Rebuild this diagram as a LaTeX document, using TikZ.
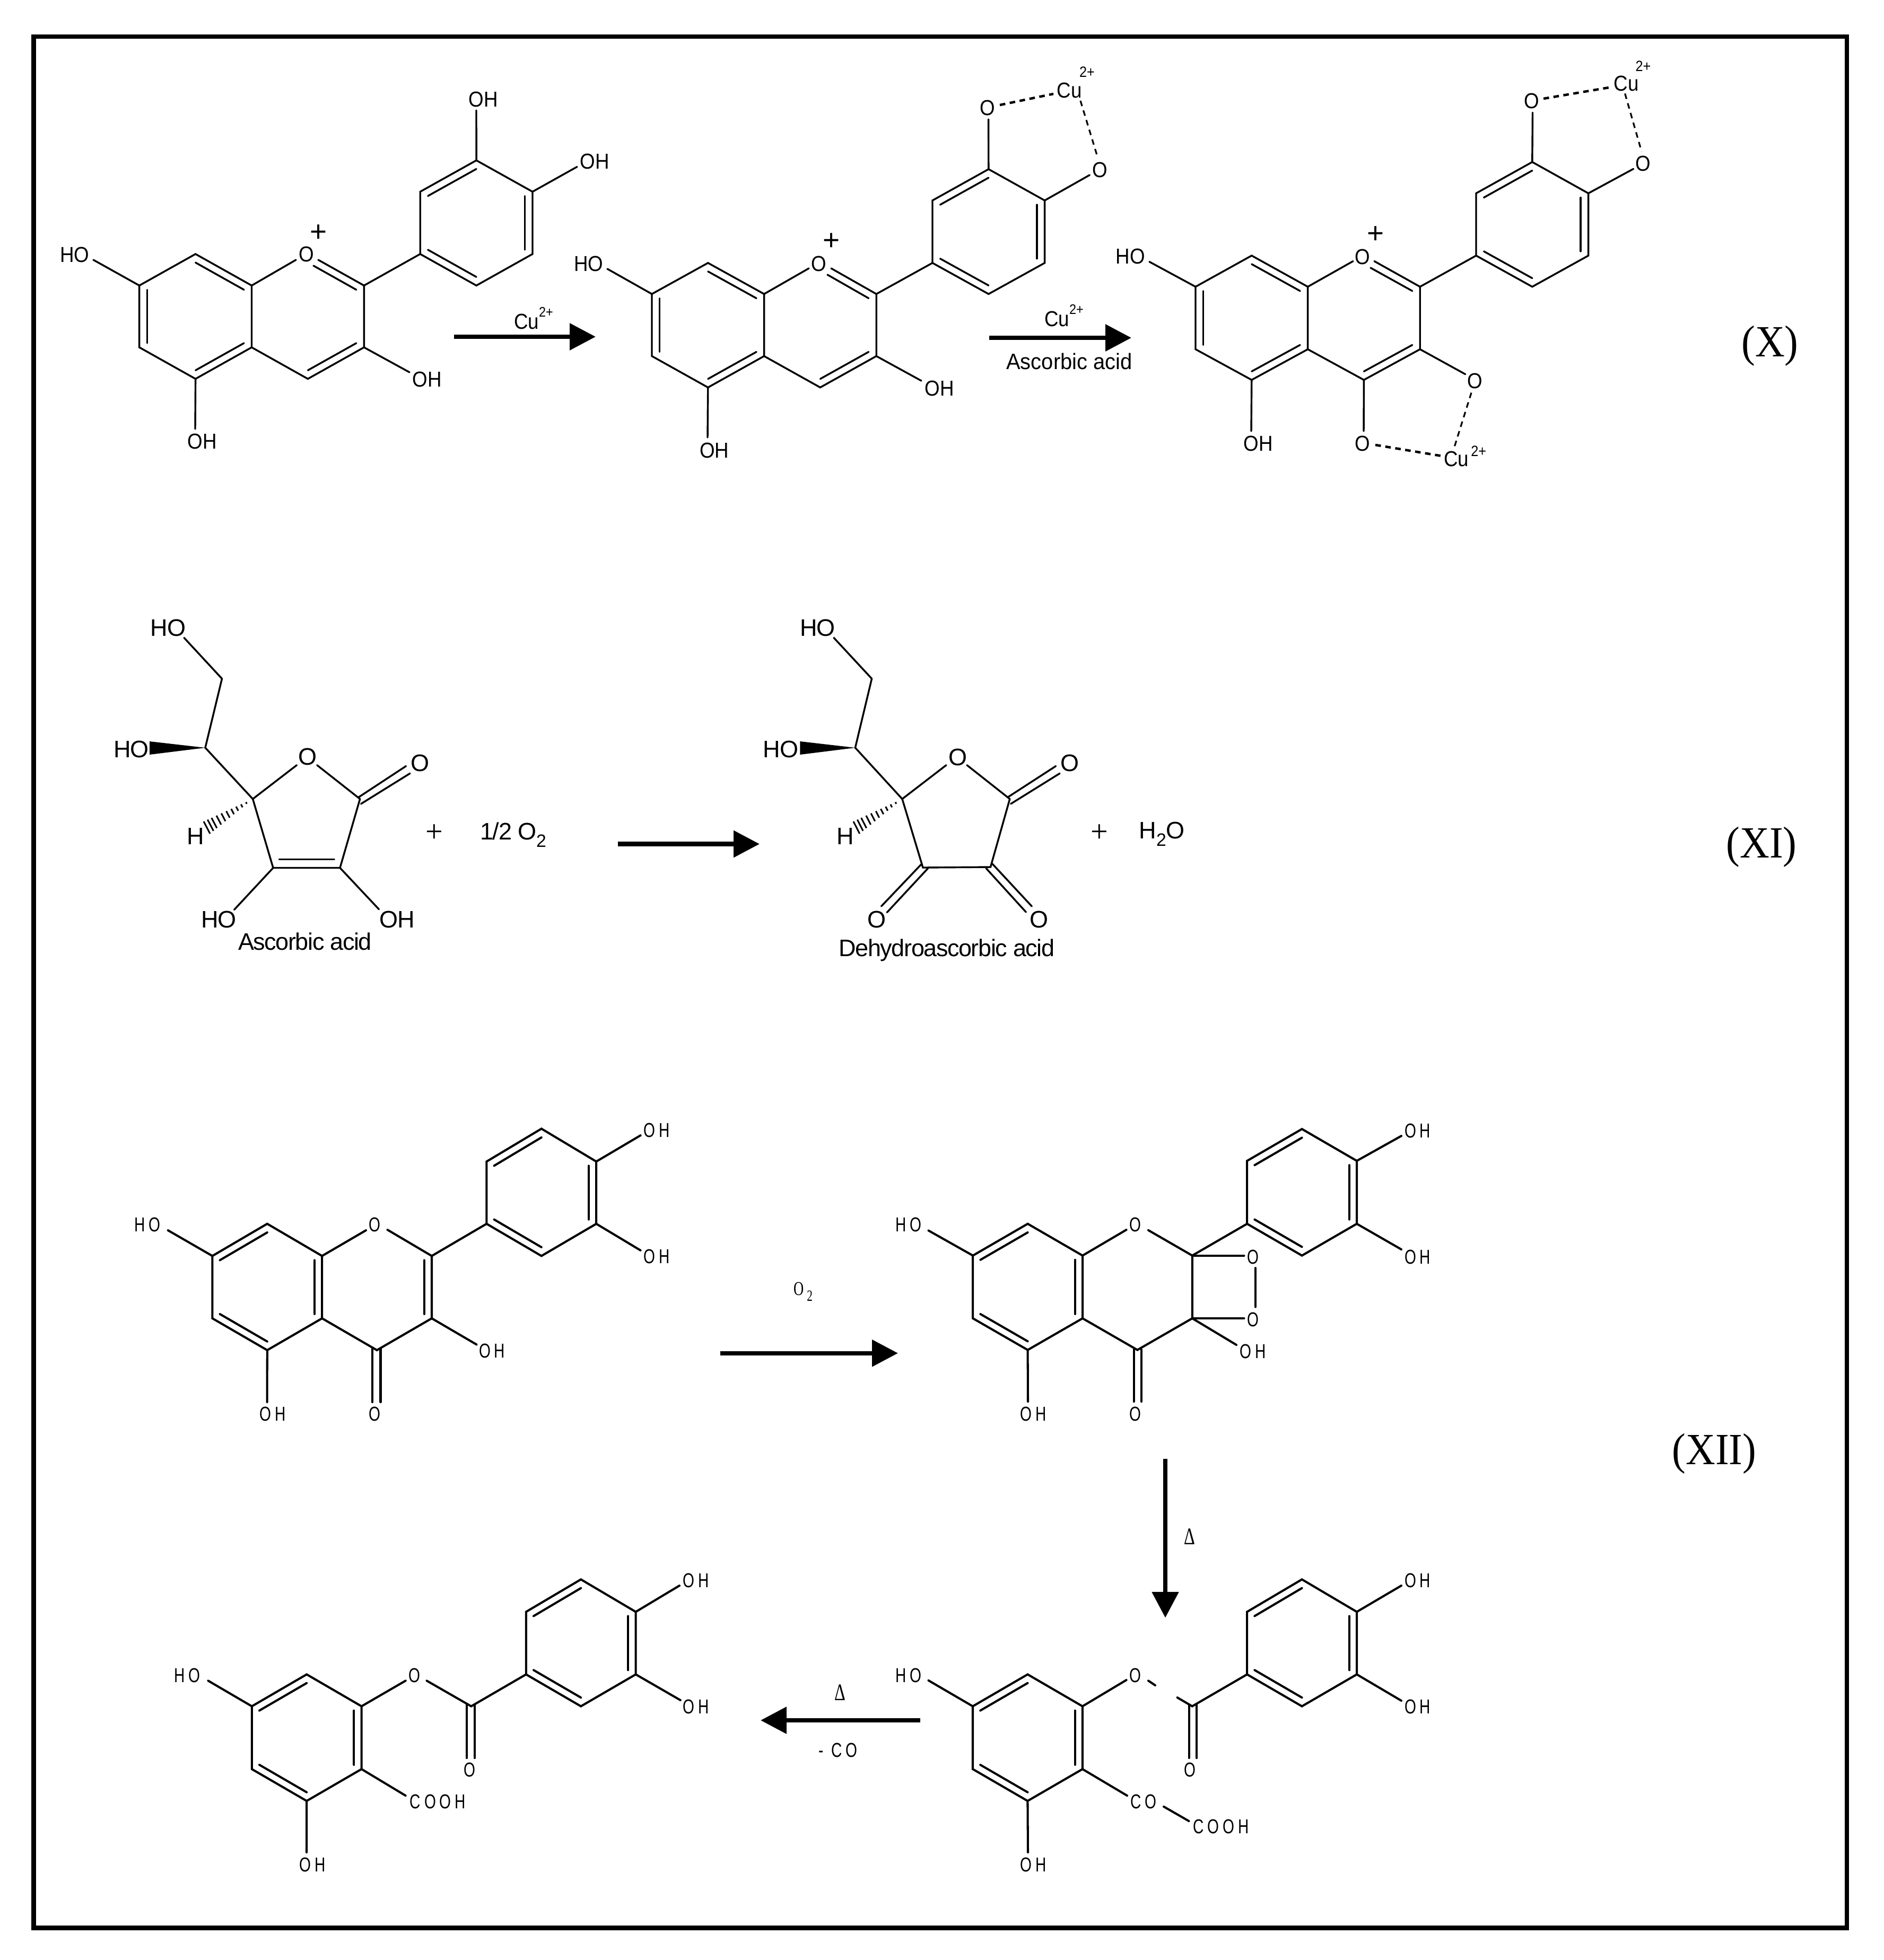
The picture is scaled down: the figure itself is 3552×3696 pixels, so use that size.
\documentclass[tikz,border=0pt]{standalone}
\usepackage{fontspec}
\usetikzlibrary{calc,arrows.meta}
\setmainfont{Liberation Sans}
\newfontfamily\chemA[FakeStretch=0.9]{Liberation Sans}
\newfontfamily\chemAw[FakeStretch=0.95]{Liberation Sans}
\newfontfamily\chemB[LetterSpace=-3.2]{Liberation Sans}
\newfontfamily\chemC[FakeStretch=0.74,LetterSpace=18]{Liberation Sans}
\newfontfamily\chemS[FakeStretch=0.92]{Liberation Serif}
\newfontfamily\chemN[FakeStretch=0.72]{Liberation Serif}
\newfontfamily\chemP{Liberation Serif}
\def\bondw{0.97pt}
\def\innerf{0.137}
\newcommand\gridmol[9]{%
  \def\xa{#2}\def\dx{#3}%
  \coordinate (#1A1) at ({\xa},#7);
  \coordinate (#1A2) at ({\xa+\dx},#6);
  \coordinate (#1A3) at ({\xa+2*\dx},#7);
  \coordinate (#1A4) at ({\xa+2*\dx},#8);
  \coordinate (#1A5) at ({\xa+\dx},#9);
  \coordinate (#1A6) at ({\xa},#8);
  \coordinate (#1O) at ({\xa+3*\dx},#6);
  \coordinate (#1C2) at ({\xa+4*\dx},#7);
  \coordinate (#1C3) at ({\xa+4*\dx},#8);
  \coordinate (#1C4) at ({\xa+3*\dx},#9);
  \coordinate (#1B1) at ({\xa+5*\dx},#6);
  \coordinate (#1B2) at ({\xa+5*\dx},#5);
  \coordinate (#1B3) at ({\xa+6*\dx},#4);
  \coordinate (#1B4) at ({\xa+7*\dx},#5);
  \coordinate (#1B5) at ({\xa+7*\dx},#6);
  \coordinate (#1B6) at ({\xa+6*\dx},#7);
  \coordinate (#1cA) at ($(#1A2)!0.5!(#1A5)$);
  \coordinate (#1cC) at ($(#1O)!0.5!(#1C4)$);
  \coordinate (#1cB) at ($(#1B3)!0.5!(#1B6)$);
  \draw[bond] (#1A1) -- (#1A2) -- (#1A3) -- (#1A4) -- (#1A5) -- (#1A6) -- cycle;
  \draw[bond] (#1B1) -- (#1B2) -- (#1B3) -- (#1B4) -- (#1B5) -- (#1B6) -- cycle;
  \innerbond{#1B1}{#1B6}{#1cB}\innerbond{#1B2}{#1B3}{#1cB}\innerbond{#1B4}{#1B5}{#1cB}%
}
\newcommand\innerbond[3]{\draw[bond] ($(#1)!\innerf!(#3)$) -- ($(#2)!\innerf!(#3)$);}
\newcommand\bondstub[3]{\coordinate (#2) at (#3); \draw[bond] (#1) -- (#2);}
\newcommand\hashw[3]{\foreach \t in {0.14,0.24,0.34,0.44,0.54,0.64,0.74,0.84,0.92,1.0}{\draw[hashline] ($(#1)!\t!(#2)$) -- ($(#1)!\t!(#3)$);}}
\newcommand\suptxt[1]{\raisebox{.55em}{\fontsize{7.4}{8}\selectfont #1}}
\newcommand\subtxt[1]{\raisebox{-.3em}{\fontsize{9.6}{10}\selectfont #1}}
\tikzset{
  bond/.style={line width=\bondw,line cap=round,line join=miter},
  dashA/.style={line width=1.3pt,dash pattern=on 3pt off 2.4pt},
  dashB/.style={line width=0.9pt,dash pattern=on 3pt off 2.4pt},
  hashline/.style={line width=0.85pt},
  atomA/.style={inner sep=0pt,font={\chemA\fontsize{11.6}{13}\selectfont}},
  atomB/.style={inner sep=0pt,font={\chemB\fontsize{12.8}{14}\selectfont}},
  atomC/.style={inner sep=0pt,font={\chemC\fontsize{10.8}{13}\selectfont}},
  chargeA/.style={inner sep=0pt,font={\fontsize{15.6}{17}\selectfont}},
  chargeB/.style={inner sep=0pt,font={\chemA\fontsize{8}{9}\selectfont}},
  reagentA/.style={inner sep=0pt,font={\chemAw\fontsize{11.95}{13}\selectfont}},
  plusB/.style={inner sep=0pt,font={\chemP\fontsize{16.5}{18}\selectfont}},
  schemeno/.style={inner sep=0pt,anchor=base,font={\chemS\fontsize{23.9}{26}\selectfont}},
  deltalab/.style={inner sep=0pt,font={\chemN\fontsize{12.8}{14}\selectfont}},
  shaft/.style={line width=8.2*0.2845pt,-{Triangle[length=13.9pt,width=14pt]}},
  frame/.style={line width=8.3*0.2845pt,line join=miter}
}
\begin{document}
\begin{tikzpicture}[x=0.01cm,y=-0.01cm]
\useasboundingbox (0,0) rectangle (3552,3696);
\fill[white] (0,0) rectangle (3552,3696);
\coordinate (fr1) at (63.5,69);
\coordinate (fr2) at (3482,3635.5);
\draw[frame] (fr1) rectangle (fr2);

% ---------- Scheme X, molecule 1
\gridmol{a}{262.7}{105.9}{302.4}{361.5}{479}{538.4}{655}{714.4}
\node[atomA] (aO1) at (578,479) {O};
\node[chargeA] (aplus) at (601,440) {+};
\node[atomA] (aHO1) at (141,480) {HO};
\node[atomA] (aOH1) at (911,187) {OH};
\node[atomA] (aOH2) at (1121,304) {OH};
\node[atomA] (aOH3) at (805,715) {OH};
\node[atomA] (aOH4) at (381,832) {OH};
\bondstub{aA1}{ae1}{176,490}
\bondstub{aB3}{ae2}{898,208}
\bondstub{aB4}{ae3}{1088,314.5}
\bondstub{aC3}{ae4}{772,702}
\bondstub{aA5}{ae5}{368,809}
\bondstub{aA3}{ae6}{558,490}
\bondstub{aC2}{ae7}{600,490}
\draw[bond] (aC2) -- (aC3) -- (aC4) -- (aA4);
\draw[bond] (aC2) -- (aB1);
\innerbond{aA6}{aA1}{acA}\innerbond{aA2}{aA3}{acA}\innerbond{aA4}{aA5}{acA}
\innerbond{aC3}{aC4}{acC}
\coordinate (aOi) at (591,501);
\draw[bond] (aOi) -- ($(aC2)!\innerf!(acC)$);

% arrow 1
\coordinate (ar1s) at (855.5,635); \coordinate (ar1e) at (1123,635);
\draw[shaft] (ar1s) -- (ar1e);
\node[atomA] (ar1l) at (1006,600) {Cu\suptxt{2+}};

% ---------- Scheme X, molecule 2
\gridmol{b}{1229}{105.8}{319}{378}{495.8}{554.4}{671.5}{730.6}
\node[atomA] (bO1) at (1544,497) {O};
\node[chargeA] (bplus) at (1567.6,455.5) {+};
\node[atomA] (bHO1) at (1110,497) {HO};
\node[atomA] (bOH3) at (1771,732) {OH};
\node[atomA] (bOH4) at (1346.6,849) {OH};
\node[atomA] (bO2) at (1862,203) {O};
\node[atomA] (bO3) at (2074,320.6) {O};
\node[atomA] (bCu) at (2016,170) {Cu};
\node[chargeB] (bCuc) at (2049.5,136) {2+};
\bondstub{bA1}{be1}{1145,507}
\bondstub{bB3}{be2}{1863.6,225}
\bondstub{bB4}{be3}{2054.4,330}
\bondstub{bC3}{be4}{1737,718}
\bondstub{bA5}{be5}{1334,825}
\bondstub{bA3}{be6}{1525,506}
\bondstub{bC2}{be7}{1567,506}
\draw[bond] (bC2) -- (bC3) -- (bC4) -- (bA4);
\draw[bond] (bC2) -- (bB1);
\innerbond{bA6}{bA1}{bcA}\innerbond{bA2}{bA3}{bcA}\innerbond{bA4}{bA5}{bcA}
\innerbond{bC3}{bC4}{bcC}
\coordinate (bOi) at (1560,518);
\draw[bond] (bOi) -- ($(bC2)!\innerf!(bcC)$);
\coordinate (bd1) at (1885,198); \coordinate (bd2) at (1986,177);
\draw[dashA] (bd1) -- (bd2);
\coordinate (bd3) at (2037,190); \coordinate (bd4) at (2070,298.6);
\draw[dashB] (bd3) -- (bd4);

% arrow 2
\coordinate (ar2s) at (1865,637); \coordinate (ar2e) at (2133,637);
\draw[shaft] (ar2s) -- (ar2e);
\node[atomA] (ar2l) at (2006,595) {Cu\suptxt{2+}};
\node[reagentA] (ar2m) at (2016,681.5) {Ascorbic acid};

% ---------- Scheme X, molecule 3
\gridmol{c}{2254}{105.8}{305.5}{364.5}{482}{540.7}{658.6}{716.4}
\node[atomA] (cO1) at (2569,484.5) {O};
\node[chargeA] (cplus) at (2593,442.7) {+};
\node[atomA] (cHO1) at (2131.4,483.4) {HO};
\node[atomA] (cOH4) at (2372.5,836.4) {OH};
\node[atomA] (cO4) at (2780.5,718.6) {O};
\node[atomA] (cO5) at (2569,836) {O};
\node[atomA] (cCu2) at (2745.7,865) {Cu};
\node[chargeB] (cCu2c) at (2787.7,851) {2+};
\node[atomA] (cO2) at (2887.7,190) {O};
\node[atomA] (cO3) at (3098,308.7) {O};
\node[atomA] (cCu1) at (3066,157.7) {Cu};
\node[chargeB] (cCu1c) at (3098,124.5) {2+};
\bondstub{cA1}{ce1}{2167,493.6}
\bondstub{cB3}{ce2}{2889.5,212.3}
\bondstub{cB4}{ce3}{3079.6,318.4}
\bondstub{cC3}{ce4}{2762.7,705.7}
\bondstub{cA5}{ce5}{2359,813}
\bondstub{cC4}{ce8}{2571,813}
\bondstub{cA3}{ce6}{2551,492.5}
\bondstub{cC2}{ce7}{2591,492.5}
\draw[bond] (cC2) -- (cC3) -- (cC4) -- (cA4);
\draw[bond] (cC2) -- (cB1);
\innerbond{cA6}{cA1}{ccA}\innerbond{cA2}{cA3}{ccA}\innerbond{cA4}{cA5}{ccA}
\innerbond{cC3}{cC4}{ccC}
\coordinate (cOi) at (2584,505);
\draw[bond] (cOi) -- ($(cC2)!\innerf!(ccC)$);
\coordinate (cd1) at (2910,186); \coordinate (cd2) at (3036,164.6);
\draw[dashA] (cd1) -- (cd2);
\coordinate (cd3) at (3063.6,176.4); \coordinate (cd4) at (3095,286);
\draw[dashB] (cd3) -- (cd4);
\coordinate (cd5) at (2593,839); \coordinate (cd6) at (2716,859.5);
\draw[dashA] (cd5) -- (cd6);
\coordinate (cd7) at (2774,740.5); \coordinate (cd8) at (2741,846);
\draw[dashB] (cd7) -- (cd8);
\node[schemeno] (schX) at (3337,672) {(X)};

% ---------- Scheme XI, ascorbic acid
\coordinate (dCH2) at (418.5,1279.8);
\coordinate (dCH) at (387,1410);
\coordinate (dC4) at (476.6,1506.6);
\coordinate (dC1) at (678.7,1506.6);
\coordinate (dC2) at (641,1636.5);
\coordinate (dC3) at (515,1636.5);
\node[atomB] (dHO1) at (317,1184) {HO};
\node[atomB] (dHO2) at (247.6,1412.5) {HO};
\node[atomB] (dOr) at (580.5,1426.7) {O};
\node[atomB] (dOc) at (792,1439) {O};
\node[atomB] (dHO3) at (412.8,1734.3) {HO};
\node[atomB] (dOH) at (749,1734.3) {OH};
\node[atomB] (dH) at (368.8,1577) {H};
\node[atomB] (dname) at (575,1775) {Ascorbic acid};
\bondstub{dCH2}{de1}{347,1202.6}
\draw[bond] (dCH2) -- (dCH) -- (dC4);
\coordinate (dw1) at (282,1398); \coordinate (dw2) at (282,1423);
\fill (dCH) -- (dw1) -- (dw2) -- cycle;
\bondstub{dC4}{de2}{559.5,1442.8}
\bondstub{dC1}{de3}{597.7,1442.8}
\draw[bond] (dC4) -- (dC3) -- (dC2) -- (dC1);
\coordinate (dk1) at (676,1503.4); \coordinate (dk2) at (765.5,1444.6);
\coordinate (dk3) at (680.6,1515.8); \coordinate (dk4) at (773,1458.4);
\draw[bond] (dk1) -- (dk2); \draw[bond] (dk3) -- (dk4);
\coordinate (di1) at (526.3,1620.5); \coordinate (di2) at (630.3,1620.5);
\draw[bond] (di1) -- (di2);
\bondstub{dC3}{de4}{441.5,1715.5}
\bondstub{dC2}{de5}{714.4,1714.6}
\coordinate (dh1) at (384,1549); \coordinate (dh2) at (396,1572);
\hashw{dC4}{dh1}{dh2}
\node[plusB] (dplus) at (819,1571) {+};
\node[atomB] (dO2) at (967.6,1574) {1/2 O\subtxt{2}};

% arrow 3
\coordinate (ar3s) at (1165,1591.5); \coordinate (ar3e) at (1432,1591.5);
\draw[shaft] (ar3s) -- (ar3e);

% ---------- Scheme XI, dehydroascorbic acid
\coordinate (eCH2) at (1643.6,1279.8);
\coordinate (eCH) at (1612.4,1410);
\coordinate (eC4) at (1701,1506.6);
\coordinate (eC1) at (1903.8,1506.6);
\coordinate (eC2) at (1867.5,1635);
\coordinate (eC3) at (1740,1636);
\node[atomB] (eHO1) at (1541.6,1184) {HO};
\node[atomB] (eHO2) at (1472,1412.5) {HO};
\node[atomB] (eOr) at (1805.6,1427.6) {O};
\node[atomB] (eOc) at (2017.3,1439) {O};
\node[atomB] (eO3) at (1653,1734.3) {O};
\node[atomB] (eO2) at (1958.7,1734.3) {O};
\node[atomB] (eH) at (1593.9,1577) {H};
\node[atomB] (ename) at (1785,1792) {Dehydroascorbic acid};
\bondstub{eCH2}{ee1}{1572,1202.6}
\draw[bond] (eCH2) -- (eCH) -- (eC4);
\coordinate (ew1) at (1508.4,1398); \coordinate (ew2) at (1508.4,1423);
\fill (eCH) -- (ew1) -- (ew2) -- cycle;
\bondstub{eC4}{ee2}{1784,1442.8}
\bondstub{eC1}{ee3}{1823,1442.8}
\draw[bond] (eC4) -- (eC3) -- (eC2) -- (eC1);
\coordinate (ek1) at (1901.3,1502.5); \coordinate (ek2) at (1990.6,1444.6);
\coordinate (ek3) at (1905.7,1515.8); \coordinate (ek4) at (1998,1458.4);
\draw[bond] (ek1) -- (ek2); \draw[bond] (ek3) -- (ek4);
\coordinate (ek5) at (1738,1628.7); \coordinate (ek6) at (1661.5,1709);
\coordinate (ek7) at (1749.5,1637.4); \coordinate (ek8) at (1672.3,1720.5);
\draw[bond] (ek5) -- (ek6); \draw[bond] (ek7) -- (ek8);
\coordinate (ek9) at (1870.7,1628.7); \coordinate (ek10) at (1945.3,1709);
\coordinate (ek11) at (1859.2,1637.4); \coordinate (ek12) at (1934.4,1720);
\draw[bond] (ek9) -- (ek10); \draw[bond] (ek11) -- (ek12);
\coordinate (eh1) at (1609,1549); \coordinate (eh2) at (1620.7,1572);
\hashw{eC4}{eh1}{eh2}
\node[plusB] (eplus) at (2072.8,1571) {+};
\node[atomB] (eH2O) at (2190.8,1573) {H\subtxt{2}O};
\node[schemeno] (schXI) at (3321,1617) {(XI)};

% ---------- Scheme XII, molecule 1
\def\bondw{1.15pt}
\gridmol{f}{400.4}{103.4}{2128.4}{2190.3}{2307.7}{2368.3}{2486}{2546}
\node[atomC] (fO1) at (706.5,2309.4) {O};
\node[atomC] (fHO) at (278,2309.4) {HO};
\node[atomC] (fOH1) at (1238,2131.3) {OH};
\node[atomC] (fOH2) at (1238,2369) {OH};
\node[atomC] (fOH3) at (927.6,2547) {OH};
\node[atomC] (fOH4) at (513.8,2665.9) {OH};
\node[atomC] (fO2) at (706.5,2666) {O};
\bondstub{fA3}{fe1}{690,2320}
\bondstub{fC2}{fe2}{730.5,2319}
\bondstub{fA1}{fe3}{316.7,2320}
\bondstub{fB4}{fe4}{1207.6,2141}
\bondstub{fB5}{fe5}{1207.6,2357.8}
\bondstub{fC3}{fe6}{898.5,2535.4}
\bondstub{fA5}{fe7}{503.6,2644}
\draw[bond] (fC2) -- (fC3) -- (fC4) -- (fA4);
\draw[bond] (fC2) -- (fB1);
\innerbond{fA1}{fA2}{fcA}\innerbond{fA3}{fA4}{fcA}\innerbond{fA5}{fA6}{fcA}
\innerbond{fC2}{fC3}{fcC}
\coordinate (fk1) at (702,2543); \coordinate (fk2) at (702,2644);
\coordinate (fk3) at (717.5,2543); \coordinate (fk4) at (717.5,2644);
\draw[bond] (fk1) -- (fk2); \draw[bond] (fk3) -- (fk4);

% arrow 4
\coordinate (ar4s) at (1358,2551.7); \coordinate (ar4e) at (1693,2551.7);
\draw[shaft] (ar4s) -- (ar4e);
\node[inner sep=0pt,font={\chemN\fontsize{10.5}{12}\selectfont}] (ar4l) at (1514,2436) {O\,\raisebox{-.3em}{\fontsize{8.4}{9}\selectfont 2}};

% ---------- Scheme XII, molecule 2 (dioxetane)
\gridmol{g}{1834.2}{103.4}{2129}{2189}{2307.7}{2367.6}{2486}{2545.6}
\node[atomC] (gO1) at (2140.4,2309.6) {O};
\node[atomC] (gHO) at (1712.7,2309.6) {HO};
\node[atomC] (gOH1) at (2672.7,2132) {OH};
\node[atomC] (gOH2) at (2672.7,2370) {OH};
\node[atomC] (gOH3) at (2362,2548.8) {OH};
\node[atomC] (gOH4) at (1948.4,2666.7) {OH};
\node[atomC] (gO2) at (2140.4,2666.7) {O};
\node[atomC] (gOa) at (2362,2370) {O};
\node[atomC] (gOb) at (2362,2488) {O};
\bondstub{gA3}{ge1}{2123.6,2319}
\bondstub{gC2}{ge2}{2165,2319.8}
\bondstub{gA1}{ge3}{1750.5,2320.4}
\bondstub{gB4}{ge4}{2642,2142}
\bondstub{gB5}{ge5}{2642,2356}
\bondstub{gC3}{ge6}{2331,2536}
\bondstub{gA5}{ge7}{1938,2643}
\bondstub{gC2}{ge8}{2345.5,2367.6}
\bondstub{gC3}{ge9}{2345.5,2486}
\draw[bond] (gC2) -- (gC3) -- (gC4) -- (gA4);
\draw[bond] (gC2) -- (gB1);
\innerbond{gA1}{gA2}{gcA}\innerbond{gA3}{gA4}{gcA}\innerbond{gA5}{gA6}{gcA}
\coordinate (goo1) at (2367,2391); \coordinate (goo2) at (2367,2464.6);
\draw[bond] (goo1) -- (goo2);
\coordinate (gk1) at (2137.5,2545); \coordinate (gk2) at (2137.5,2643);
\coordinate (gk3) at (2152,2545); \coordinate (gk4) at (2152,2643);
\draw[bond] (gk1) -- (gk2); \draw[bond] (gk3) -- (gk4);

% arrow 5
\coordinate (ar5s) at (2197,2751); \coordinate (ar5e) at (2197,3050.6);
\draw[shaft] (ar5s) -- (ar5e);
\node[deltalab] (ar5l) at (2243,2898) {Δ};
\node[schemeno] (schXII) at (3232,2761) {(XII)};

% ---------- Scheme XII, molecule 3
\gridmol{h}{1834}{103.43}{2978.3}{3039.4}{3157.4}{3217.5}{3336}{3396}
\node[atomC] (hO1) at (2140.4,3159.7) {O};
\node[atomC] (hHO) at (1712.7,3159.7) {HO};
\node[atomC] (hOH1) at (2672.7,2980.6) {OH};
\node[atomC] (hOH2) at (2672.7,3218.4) {OH};
\node[atomC] (hOH4) at (1948.4,3516) {OH};
\node[atomC] (hO2) at (2243.6,3337) {O};
\node[atomC] (hCO) at (2155.6,3397.5) {CO};
\node[atomC] (hCOOH) at (2302,3444) {COOH};
\bondstub{hA3}{he1}{2123.6,3168}
\coordinate (hg1) at (2165,3169.3); \coordinate (hg2) at (2178,3178);
\draw[bond] (hg1) -- (hg2);
\bondstub{hC2}{hg3}{2219.6,3201}
\bondstub{hA1}{he3}{1750.5,3168.8}
\bondstub{hB4}{he4}{2642,2990}
\bondstub{hB5}{he5}{2642,3207}
\bondstub{hA5}{he7}{1938,3493}
\bondstub{hA4}{he8}{2125,3386}
\coordinate (he9) at (2194,3406.7); \coordinate (he10) at (2241.5,3434);
\draw[bond] (he9) -- (he10);
\draw[bond] (hC2) -- (hB1);
\innerbond{hA1}{hA2}{hcA}\innerbond{hA3}{hA4}{hcA}\innerbond{hA5}{hA6}{hcA}
\coordinate (hk1) at (2241.5,3214); \coordinate (hk2) at (2241.5,3315);
\coordinate (hk3) at (2256,3214); \coordinate (hk4) at (2256,3315);
\draw[bond] (hk1) -- (hk2); \draw[bond] (hk3) -- (hk4);

% arrow 6
\coordinate (ar6s) at (1734.5,3244); \coordinate (ar6e) at (1434,3244);
\draw[shaft] (ar6s) -- (ar6e);
\node[deltalab] (ar6l) at (1583.5,3192) {Δ};
\node[atomC] (ar6m) at (1580,3300) {- CO};

% ---------- Scheme XII, molecule 4
\gridmol{k}{474.8}{103.4}{2978.3}{3039.4}{3157.4}{3217.5}{3336}{3396}
\node[atomC] (kO1) at (781,3159.7) {O};
\node[atomC] (kHO) at (352.5,3159.7) {HO};
\node[atomC] (kOH1) at (1311.8,2980.6) {OH};
\node[atomC] (kOH2) at (1311.8,3218.4) {OH};
\node[atomC] (kOH4) at (589,3516) {OH};
\node[atomC] (kO2) at (885,3337) {O};
\node[atomC] (kCOOH) at (825.4,3397.5) {COOH};
\bondstub{kA3}{ke1}{764.7,3169.3}
\bondstub{kC2}{ke2}{804.5,3169.3}
\bondstub{kA1}{ke3}{392.4,3169.3}
\bondstub{kB4}{ke4}{1281,2990}
\bondstub{kB5}{ke5}{1282.8,3206}
\bondstub{kA5}{ke7}{578,3493}
\bondstub{kA4}{ke8}{764.7,3386}
\draw[bond] (kC2) -- (kB1);
\innerbond{kA1}{kA2}{kcA}\innerbond{kA3}{kA4}{kcA}\innerbond{kA5}{kA6}{kcA}
\coordinate (kk1) at (880,3214); \coordinate (kk2) at (880,3315);
\coordinate (kk3) at (895,3214); \coordinate (kk4) at (895,3315);
\draw[bond] (kk1) -- (kk2); \draw[bond] (kk3) -- (kk4);
\end{tikzpicture}
\end{document}
